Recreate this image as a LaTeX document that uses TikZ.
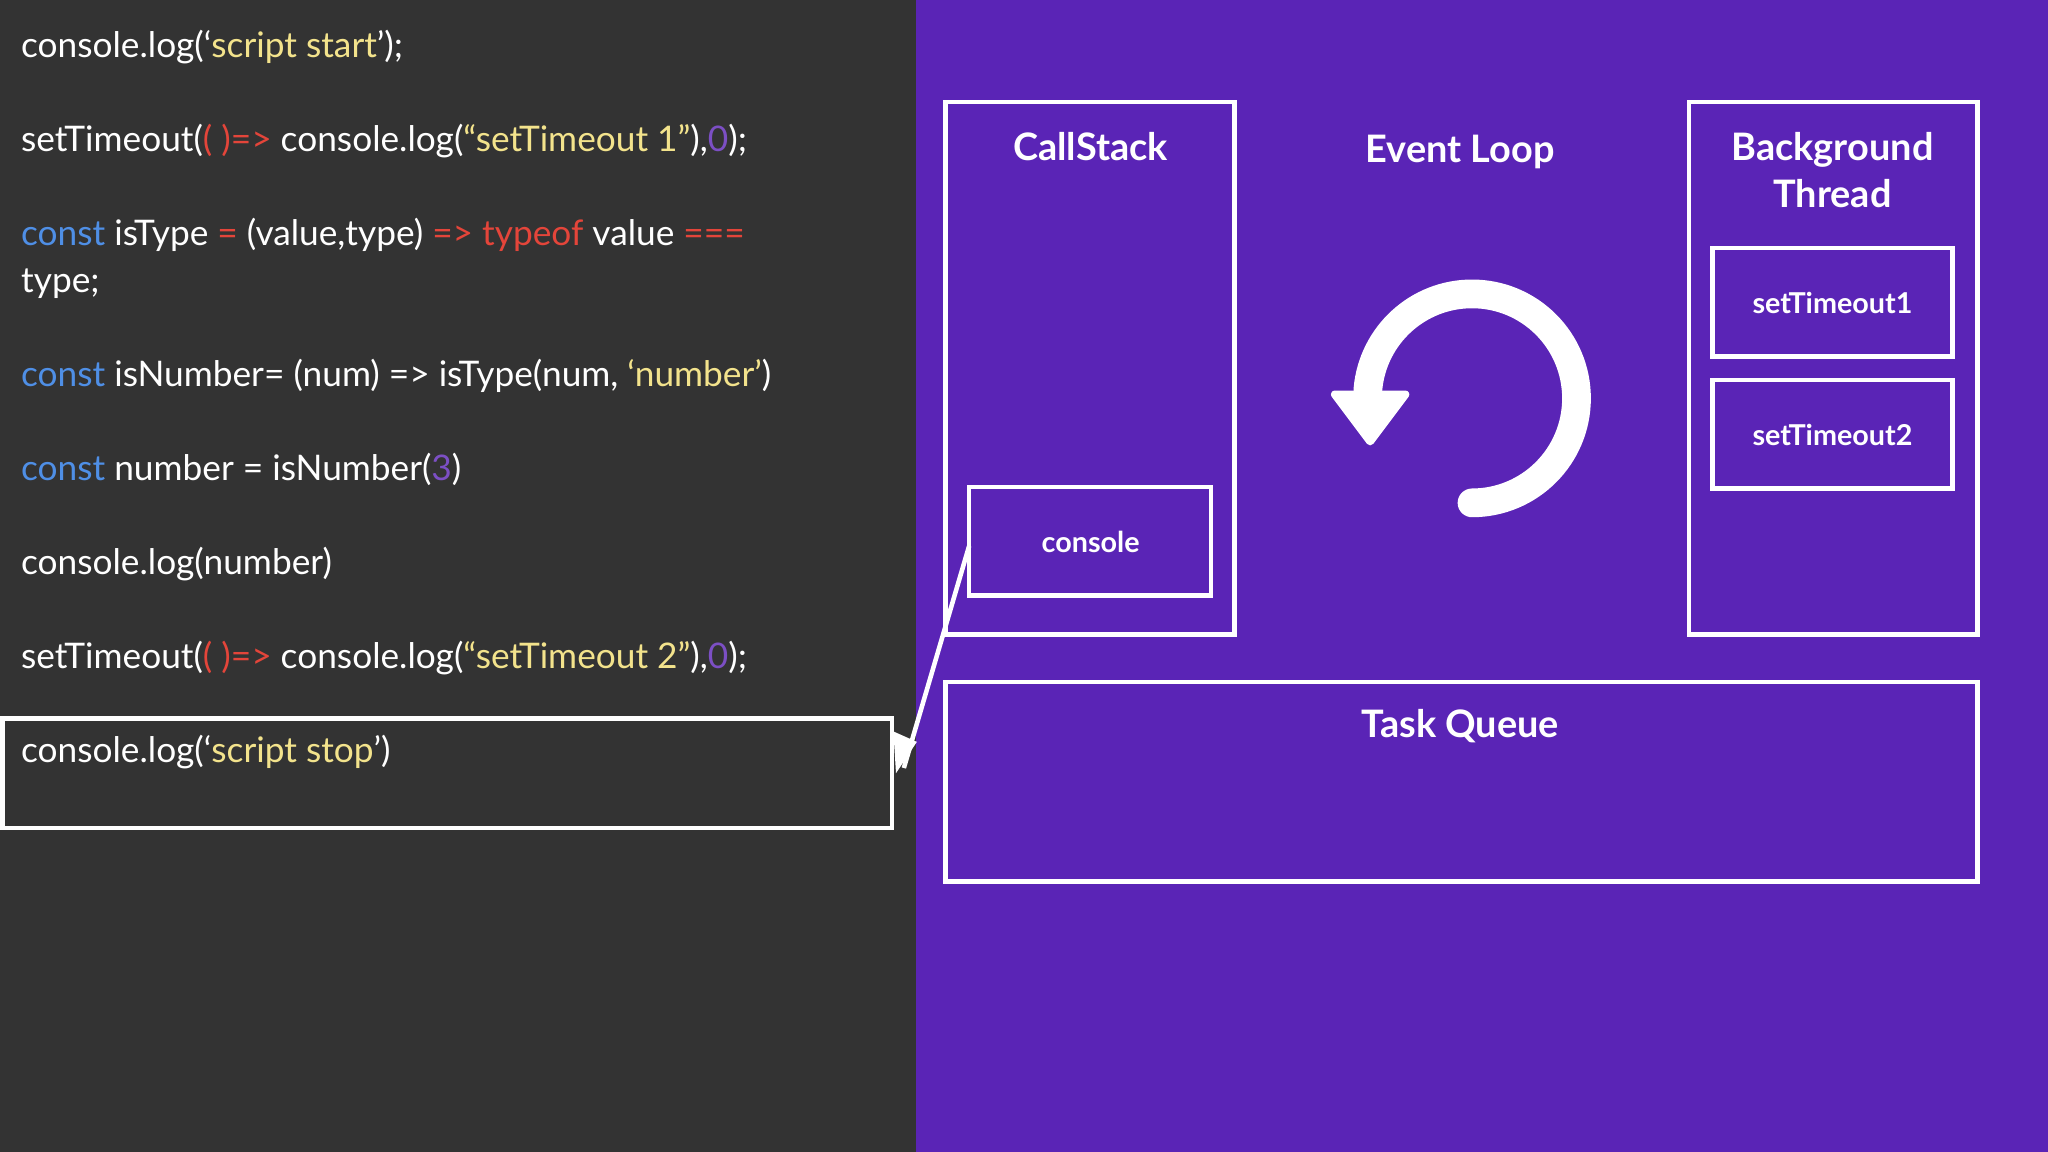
\documentclass[tikz,border=0pt]{standalone}
\usepackage{fontspec}
\setmainfont{Lato}
\usetikzlibrary{arrows.meta}
\definecolor{codebg}{HTML}{333333}
\definecolor{purp}{HTML}{5A24B6}
\definecolor{cy}{HTML}{F3E38C}
\definecolor{cr}{HTML}{E4453A}
\definecolor{cb}{HTML}{4F8FE6}
\definecolor{cp}{HTML}{7C4FC4}
\tikzset{
 code/.style={anchor=base west,text=white,font=\fontsize{27}{32}\selectfont,inner sep=0pt},
 wbox/.style={draw=white,line width=3.5pt},
 title/.style={text=white,font=\bfseries\fontsize{29}{36}\selectfont,align=center},
 small/.style={text=white,font=\bfseries\fontsize{22}{26}\selectfont}
}
\begin{document}
\begin{tikzpicture}[x=1pt,y=-1pt]
\useasboundingbox (0,0) rectangle (1568,882);
\fill[codebg] (0,0) rectangle (701,882);
\fill[purp] (701,0) rectangle (1568,882);
\node[code] (l1) at (16,44) {console.log(‘\textcolor{cy}{script start}’);};
\node[code] (l2) at (16,116) {setTimeout(\textcolor{cr}{( )=>} console.log(\textcolor{cy}{“setTimeout 1”}),\textcolor{cp}{0});};
\node[code] (l3) at (16,188) {\textcolor{cb}{const} isType \textcolor{cr}{=} (value,type) \textcolor{cr}{=>} \textcolor{cr}{typeof} value \textcolor{cr}{===}};
\node[code] (l3b) at (16,224) {type;};
\node[code] (l4) at (16,296) {\textcolor{cb}{const} isNumber= (num) => isType(num, \textcolor{cy}{‘number’})};
\node[code] (l5) at (16,368) {\textcolor{cb}{const} number = isNumber(\textcolor{cp}{3})};
\node[code] (l6) at (16,440) {console.log(number)};
\node[code] (l7) at (16,512) {setTimeout(\textcolor{cr}{( )=>} console.log(\textcolor{cy}{“setTimeout 2”}),\textcolor{cp}{0});};
\node[code] (l8) at (16,584) {console.log(‘\textcolor{cy}{script stop}’)};
\draw[wbox] (2,550) rectangle (683,634);
\coordinate (hl) at (683,592);
% right side
\draw[wbox] (724,78) rectangle (945,486);
\node[title] (cs) at (835,112) {CallStack};
\draw[wbox] (742,373) rectangle (927,456);
\node[small] (con) at (835,415) {console};
\coordinate (cw) at (742,418);
\node[title] (el) at (1118,116) {Event Loop};
\draw[white,line width=22pt,line cap=round] (1127,385) arc[start angle=90,end angle=-175,radius=80];
\fill[white,draw=white,line width=6pt,line join=round] (1022,302) -- (1076,302) -- (1049,338) -- cycle;
\draw[wbox] (1293,78) rectangle (1514,486);
\node[title,font=\bfseries\fontsize{29}{36}\selectfont] (bt) at (1403,130) {Background\\Thread};
\draw[wbox] (1311,190) rectangle (1495,273);
\node[small] (t1) at (1403,232) {setTimeout1};
\draw[wbox] (1311,291) rectangle (1495,374);
\node[small] (t2) at (1403,333) {setTimeout2};
\draw[wbox] (724,522) rectangle (1514,675);
\node[title] (tq) at (1118,556) {Task Queue};
\draw[white,line width=3.5pt] (cw) -- (692,588);
\fill[white] (684,560) -- (702,568) -- (686,592) -- cycle;
\end{tikzpicture}
\end{document}
